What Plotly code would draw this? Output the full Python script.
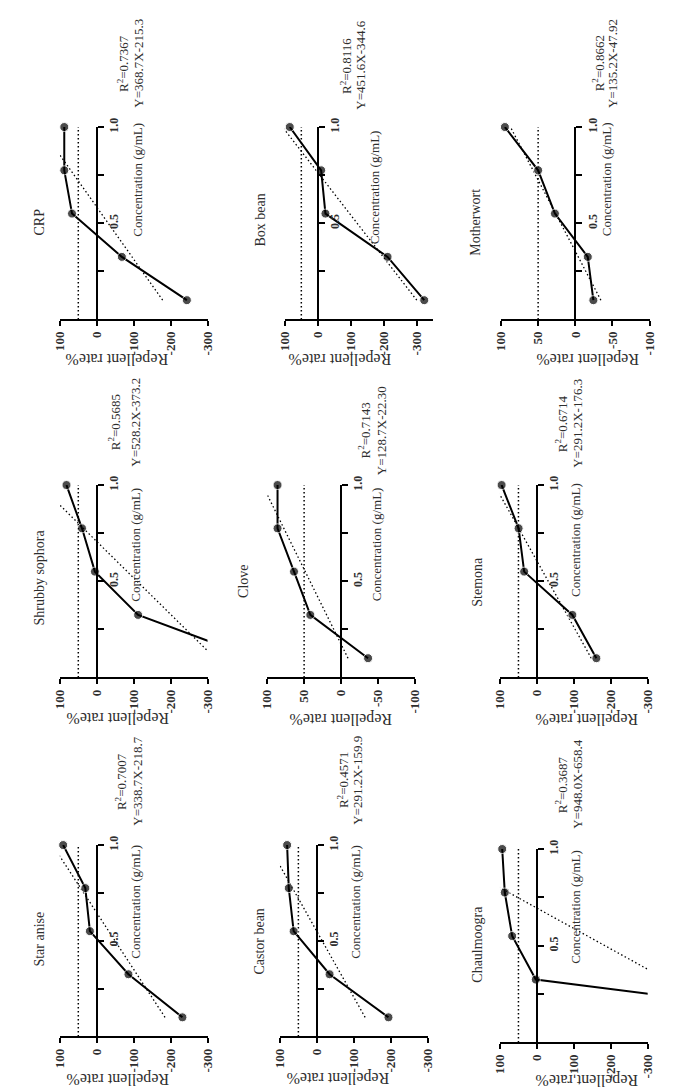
import plotly.graph_objects as go

W, H = 685, 1091
SERIF = "Liberation Serif"

# panels in image order (rows top to bottom, columns left to right)
names = ["CRP", "Box bean", "Motherwort",
         "Shrubby sophora", "Clove", "Stemona",
         "Star anise", "Castor bean", "Chaulmoogra"]

concentration = [0.1, 0.325, 0.55, 0.775, 1.0]

rate_crp = [-244, -68, 67, 88, 88]
rate_box_bean = [-322, -211, -23, -10, 85]
rate_motherwort = [-24.3, -16.8, 27.4, 50, 94.7]
rate_shrubby = [-428, -112, 5, 40, 82]
rate_clove = [-36.6, 41.6, 63.7, 86, 86]
rate_stemona = [-161, -96, 34.5, 49.6, 95.6]
rate_star_anise = [-232, -85.8, 18.6, 31, 91]
rate_castor = [-194, -34.5, 62.8, 76, 80.5]
rate_chaulmoogra = [-925, 3, 67, 87, 94]
rates = [rate_crp, rate_box_bean, rate_motherwort,
         rate_shrubby, rate_clove, rate_stemona,
         rate_star_anise, rate_castor, rate_chaulmoogra]

slopes = [368.7, 451.6, 135.2, 528.2, 128.7, 291.2, 338.7, 291.2, 948.0]
intercepts = [-215.3, -344.6, -47.92, -373.2, -22.30, -176.3, -218.7, -159.9, -658.4]
r2_values = ["0.7367", "0.8116", "0.8662", "0.5685", "0.7143", "0.6714", "0.7007", "0.4571", "0.3687"]
equations = ["Y=368.7X-215.3", "Y=451.6X-344.6", "Y=135.2X-47.92",
             "Y=528.2X-373.2", "Y=128.7X-22.30", "Y=291.2X-176.3",
             "Y=338.7X-218.7", "Y=291.2X-159.9", "Y=948.0X-658.4"]

axis_low = [-300, -350, -100, -300, -100, -300, -300, -300, -300]
ticks_wide = [100, 0, -100, -200, -300]
ticks_wide_text = ["100", "0", "-100", "-200", "-300"]
ticks_narrow = [100, 50, 0, -50, -100]
ticks_narrow_text = ["100", "50", "0", "-50", "-100"]
conc_ticks = [0.5, 1.0]
conc_ticktext = ["0.5", "1.0"]
conc_minor = [0.25, 0.75]
threshold = 50

# pixel layout of each panel: x of 100, x of low end, y of conc 0, y of conc 1
boxes = [(53, 204, 313, 119), (283, 435, 313, 119), (504, 656, 313, 119),
         (53, 204, 674, 480), (265, 416, 674, 480), (503, 654, 674, 480),
         (53, 204, 1036, 843), (278, 429, 1036, 843), (503, 654, 1042, 847)]
title_pos = [(32, 215), (258, 213), (478, 215), (32, 573), (241, 577), (480, 577),
             (32, 938), (257, 940), (480, 943)]
conc_lab_pos = [(132, 172), (375, 180), (612, 172), (130, 540), (377, 540), (580, 535),
                (130, 900), (355, 900), (580, 905)]
r2_pos = [(117, 55), (345, 57), (603, 55), (108, 417), (365, 425), (565, 418),
          (115, 779), (342, 778), (565, 782)]
eq_pos = [(133, 55), (360, 57), (618, 55), (130, 417), (382, 425), (582, 418),
          (132, 779), (357, 778), (582, 782)]
rate_lab_pos = [(111, 353), (339, 353), (593, 353), (112, 715), (340, 716), (592, 716),
                (112, 1079), (337, 1078), (592, 1080)]


def fx(px):
    return px / W


def fy(py):
    return 1 - py / H


fig = go.Figure()
layout = {}
annotations = []
text_col = "#2e2e2e"
dots = "1.5px,2.5px"

for i, name in enumerate(names):
    n = "" if i == 0 else str(i + 1)
    xa, ya = "x" + n, "y" + n
    x100, xend, y0, y1 = boxes[i]
    lo = axis_low[i]
    narrow = lo == -100

    # 50% reference line
    fig.add_trace(go.Scatter(x=[threshold, threshold], y=[0, concentration[-1]], mode="lines",
                             line=dict(color="black", width=1.5, dash=dots),
                             xaxis=xa, yaxis=ya, showlegend=False, hoverinfo="skip"))
    # linear fit
    fit_c = [concentration[0], concentration[-1]]
    fit_r = [slopes[i] * c + intercepts[i] for c in fit_c]
    fig.add_trace(go.Scatter(x=fit_r, y=fit_c, mode="lines",
                             line=dict(color="black", width=1.3, dash=dots),
                             xaxis=xa, yaxis=ya, showlegend=False, hoverinfo="skip"))
    # data
    vals = rates[i]
    fig.add_trace(go.Scatter(x=vals, y=concentration, mode="lines",
                             line=dict(color="black", width=2),
                             xaxis=xa, yaxis=ya, showlegend=False))
    sizes = [9 if lo <= v <= 100 else 0 for v in vals]
    fig.add_trace(go.Scatter(x=vals, y=concentration, mode="markers",
                             marker=dict(size=sizes, color="black"), cliponaxis=False,
                             xaxis=xa, yaxis=ya, showlegend=False))

    x_zero = x100 + 100 / (100 - lo) * (xend - x100)
    layout["xaxis" + n] = dict(
        domain=[fx(x100), fx(xend)], range=[100, lo], anchor=ya,
        showline=True, linecolor="black", linewidth=2,
        ticks="outside", ticklen=5, tickwidth=2, tickcolor="black",
        tickvals=ticks_narrow if narrow else ticks_wide,
        ticktext=ticks_narrow_text if narrow else ticks_wide_text, tickangle=-90,
        tickfont=dict(family=SERIF, size=13, color=text_col, weight="bold"),
        showgrid=False, zeroline=False)
    layout["yaxis" + n] = dict(
        domain=[fy(y0), fy(y1)], range=[0, 1.0], anchor="free", position=fx(x_zero),
        side="right", showline=True, linecolor="black", linewidth=2,
        ticks="outside", ticklen=6, tickwidth=2, tickcolor="black",
        tickvals=conc_ticks, ticktext=conc_ticktext, tickangle=-90,
        minor=dict(tickvals=conc_minor, ticks="outside", ticklen=6, tickwidth=2,
                   tickcolor="black", showgrid=False),
        tickfont=dict(family=SERIF, size=12, color=text_col, weight="bold"),
        showgrid=False, zeroline=False)

    def ann(pos, text, size, angle=-90):
        annotations.append(dict(x=fx(pos[0]), y=fy(pos[1]), xref="paper", yref="paper",
                                text=text, showarrow=False, textangle=angle,
                                xanchor="center", yanchor="middle",
                                font=dict(family=SERIF, size=size, color=text_col)))

    ann(title_pos[i], name, 14)
    ann(conc_lab_pos[i], "Concentration (g/mL)", 13)
    ann(r2_pos[i], "R<sup>2</sup>=" + r2_values[i], 13)
    ann(eq_pos[i], equations[i], 13)
    ann(rate_lab_pos[i], "Repellent rate%", 16, angle=180)

fig.update_layout(
    width=W, height=H, margin=dict(l=0, r=0, t=0, b=0),
    paper_bgcolor="white", plot_bgcolor="white",
    annotations=annotations, **layout)

# the page body has a default margin; drop it so the figure sits at (0, 0)
fig.write_html("out.html", config={"displayModeBar": False},
               post_script="document.body.style.margin='0px';")
